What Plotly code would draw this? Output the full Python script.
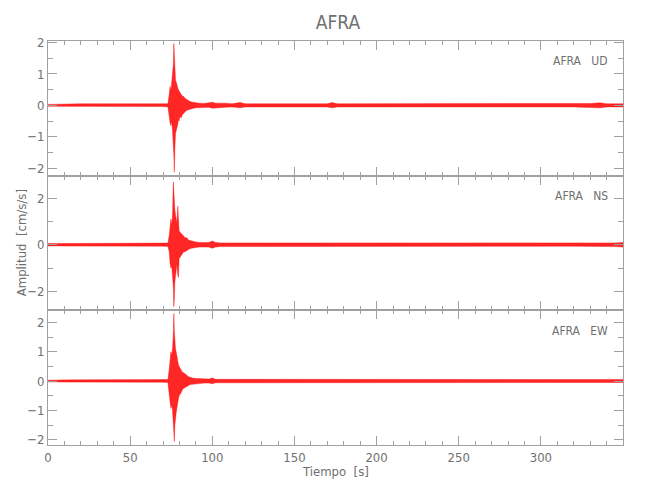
import plotly.graph_objects as go
from plotly.subplots import make_subplots

# ---- data (envelope of each trace) ----
station = "AFRA"
components = ["UD", "NS", "EW"]

t = [0, 5, 10, 15, 20, 25, 30, 35, 40, 45, 50, 55, 60, 65, 70, 73, 73.8, 74.3,
     74.8, 75.3, 75.8, 76.3, 76.6, 76.9, 77.2, 77.6, 78.0, 78.5, 79.0, 79.4,
     79.8, 80.3, 81.0, 81.8, 82.6, 83.5, 84.5, 85.5, 86.5, 88, 90, 92, 95, 98,
     100, 102, 105, 108, 112, 117, 120, 125, 130, 140, 150, 160, 170, 173, 176,
     180, 190, 200, 210, 220, 230, 240, 250, 260, 270, 280, 290, 300, 310, 320,
     330, 336, 340, 345, 350]

ud_up = [0.03, 0.04, 0.03, 0.04, 0.05, 0.05, 0.05, 0.05, 0.05, 0.05, 0.04, 0.04,
         0.04, 0.04, 0.04, 0.05, 0.35, 0.6, 0.45, 0.7, 0.9, 1.3, 1.97, 1.5, 1.0,
         0.8, 0.75, 0.6, 0.55, 0.5, 0.45, 0.4, 0.35, 0.3, 0.28, 0.22, 0.18, 0.15,
         0.12, 0.1, 0.08, 0.07, 0.06, 0.07, 0.1, 0.07, 0.08, 0.07, 0.05, 0.09,
         0.05, 0.05, 0.05, 0.05, 0.05, 0.05, 0.05, 0.09, 0.05, 0.05, 0.05, 0.05,
         0.04, 0.04, 0.04, 0.05, 0.05, 0.05, 0.05, 0.05, 0.05, 0.05, 0.05, 0.05,
         0.06, 0.08, 0.05, 0.05, 0.05]
ud_lo = [-0.03, -0.04, -0.03, -0.04, -0.05, -0.05, -0.05, -0.05, -0.05, -0.05,
         -0.04, -0.04, -0.04, -0.04, -0.04, -0.05, -0.3, -0.55, -0.65, -0.5,
         -0.8, -1.2, -1.6, -2.13, -1.4, -0.9, -0.85, -0.7, -0.6, -0.45, -0.5,
         -0.35, -0.4, -0.3, -0.25, -0.2, -0.16, -0.14, -0.12, -0.1, -0.08, -0.07,
         -0.06, -0.06, -0.09, -0.07, -0.07, -0.06, -0.05, -0.08, -0.05, -0.05,
         -0.05, -0.05, -0.05, -0.05, -0.05, -0.08, -0.05, -0.05, -0.05, -0.05,
         -0.04, -0.04, -0.04, -0.05, -0.05, -0.05, -0.05, -0.05, -0.05, -0.05,
         -0.05, -0.05, -0.06, -0.08, -0.05, -0.05, -0.05]

ns_up = [0.05, 0.05, 0.05, 0.05, 0.05, 0.06, 0.06, 0.06, 0.06, 0.06, 0.06, 0.06,
         0.06, 0.06, 0.06, 0.07, 0.4, 0.9, 1.1, 0.8, 1.3, 2.7, 2.2, 1.8, 1.5,
         1.3, 1.0, 0.9, 1.65, 1.1, 0.6, 0.55, 0.5, 0.4, 0.35, 0.3, 0.3, 0.2,
         0.18, 0.14, 0.12, 0.1, 0.09, 0.1, 0.16, 0.1, 0.08, 0.08, 0.07, 0.07,
         0.07, 0.06, 0.06, 0.06, 0.06, 0.06, 0.06, 0.06, 0.06, 0.06, 0.06, 0.06,
         0.06, 0.06, 0.06, 0.06, 0.06, 0.06, 0.06, 0.06, 0.06, 0.06, 0.06, 0.06,
         0.06, 0.06, 0.07, 0.08, 0.1]
ns_lo = [-0.05, -0.05, -0.05, -0.05, -0.05, -0.06, -0.06, -0.06, -0.06, -0.06,
         -0.06, -0.06, -0.06, -0.06, -0.06, -0.07, -0.3, -0.8, -1.0, -0.9,
         -1.1, -1.8, -2.65, -2.3, -1.6, -1.2, -1.1, -0.8, -1.3, -1.4, -0.6,
         -0.55, -0.45, -0.4, -0.3, -0.3, -0.25, -0.2, -0.16, -0.14, -0.12,
         -0.1, -0.09, -0.1, -0.15, -0.1, -0.08, -0.08, -0.07, -0.07, -0.07,
         -0.06, -0.06, -0.06, -0.06, -0.06, -0.06, -0.06, -0.06, -0.06, -0.06,
         -0.06, -0.06, -0.06, -0.06, -0.06, -0.06, -0.06, -0.06, -0.06, -0.06,
         -0.06, -0.06, -0.06, -0.06, -0.06, -0.07, -0.08, -0.1]

ew_up = [0.03, 0.04, 0.04, 0.04, 0.04, 0.04, 0.04, 0.04, 0.04, 0.04, 0.04, 0.04,
         0.04, 0.04, 0.04, 0.05, 0.4, 0.8, 1.0, 0.85, 1.1, 1.6, 2.3, 1.7, 1.2,
         1.1, 1.0, 0.8, 0.7, 0.55, 0.5, 0.45, 0.4, 0.3, 0.28, 0.25, 0.2, 0.15,
         0.13, 0.1, 0.09, 0.08, 0.07, 0.07, 0.1, 0.06, 0.06, 0.06, 0.05, 0.05,
         0.05, 0.05, 0.05, 0.05, 0.05, 0.05, 0.05, 0.05, 0.05, 0.05, 0.04, 0.04,
         0.04, 0.04, 0.04, 0.04, 0.04, 0.04, 0.04, 0.04, 0.04, 0.04, 0.04, 0.04,
         0.05, 0.05, 0.05, 0.05, 0.05]
ew_lo = [-0.03, -0.04, -0.04, -0.04, -0.04, -0.04, -0.04, -0.04, -0.04, -0.04,
         -0.04, -0.04, -0.04, -0.04, -0.04, -0.05, -0.35, -0.7, -0.93, -0.8,
         -1.0, -1.3, -1.7, -2.06, -1.5, -1.27, -1.1, -0.9, -0.7, -0.6, -0.5,
         -0.45, -0.4, -0.3, -0.25, -0.22, -0.2, -0.15, -0.12, -0.1, -0.09,
         -0.08, -0.07, -0.07, -0.09, -0.06, -0.06, -0.06, -0.05, -0.05, -0.05,
         -0.05, -0.05, -0.05, -0.05, -0.05, -0.05, -0.05, -0.05, -0.05, -0.04,
         -0.04, -0.04, -0.04, -0.04, -0.04, -0.04, -0.04, -0.04, -0.04, -0.04,
         -0.04, -0.04, -0.04, -0.05, -0.05, -0.05, -0.05, -0.05]

x_ticks = [0, 50, 100, 150, 200, 250, 300]

# ---- figure ----
FONT = "Liberation Sans Narrow, DejaVu Sans Condensed, Arial Narrow, sans-serif"
TXT = "#707070"
AX = "#a0a0a0"
RED = "#ff0000"

traces = [(ud_up, ud_lo), (ns_up, ns_lo), (ew_up, ew_lo)]
yranges = [[-2.24, 2.05], [-2.81, 2.96], [-2.18, 2.41]]
ydticks = [1, 2, 1]

fig = make_subplots(rows=3, cols=1, shared_xaxes=True, vertical_spacing=0)

for i, (up, lo) in enumerate(traces):
    r = i + 1
    fig.add_trace(go.Scatter(
        x=t + t[::-1], y=up + lo[::-1], mode="lines", fill="toself",
        fillcolor="rgba(255,0,0,0.85)", line=dict(color=RED, width=0.4),
        showlegend=False, hoverinfo="skip"), row=r, col=1)
    fig.update_yaxes(
        row=r, col=1, range=yranges[i], dtick=ydticks[i], tick0=0,
        automargin=False,
        showgrid=False, zeroline=False, showline=True, linecolor=AX,
        linewidth=1, mirror="ticks", ticks="inside", ticklen=9,
        tickcolor=AX, tickwidth=1,
        minor=dict(dtick=ydticks[i] / 2, ticks="inside", ticklen=5,
                   tickcolor=AX, showgrid=False),
        tickfont=dict(family=FONT, size=13, color=TXT))
    fig.update_xaxes(
        row=r, col=1, range=[0, 350], tickvals=x_ticks, automargin=False,
        showgrid=False, zeroline=False, showline=True, linecolor=AX,
        linewidth=1, mirror="ticks", ticks="inside", ticklen=9,
        tickcolor=AX, tickwidth=1,
        minor=dict(dtick=10, tick0=0, ticks="inside", ticklen=4,
                   tickcolor=AX, showgrid=False),
        tickfont=dict(family=FONT, size=13, color=TXT))
    ax_suffix = "" if r == 1 else str(r)
    fig.add_annotation(
        xref=f"x{ax_suffix} domain", yref=f"y{ax_suffix} domain",
        x=0.978, y=0.85, xanchor="right", yanchor="middle", showarrow=False,
        text=f"{station}\u00a0\u00a0\u00a0{components[i]}",
        font=dict(family=FONT, size=12, color=TXT))

fig.add_annotation(xref="paper", yref="paper", x=0.5, y=-0.066,
                   xanchor="center", yanchor="middle", showarrow=False,
                   text="Tiempo\u00a0\u00a0[s]",
                   font=dict(family=FONT, size=13, color=TXT))

fig.add_annotation(xref="paper", yref="paper", x=-0.03, y=0.5,
                   xanchor="right", yanchor="middle", textangle=-90,
                   showarrow=False, text="Amplitud\u00a0\u00a0[cm/s/s]",
                   font=dict(family=FONT, size=13, color=TXT))

fig.update_layout(
    width=650, height=500,
    margin=dict(l=48, r=27, t=41, b=55, autoexpand=False),
    paper_bgcolor="white", plot_bgcolor="white",
    title=dict(text=station, x=0.52, xanchor="center", y=0.956,
               yanchor="middle", automargin=False,
               font=dict(family=FONT, size=19, color=TXT)),
    font=dict(family=FONT, color=TXT),
)

fig.write_html("out.html", config={"displayModeBar": False},
               post_script="document.body.style.margin='0';")
